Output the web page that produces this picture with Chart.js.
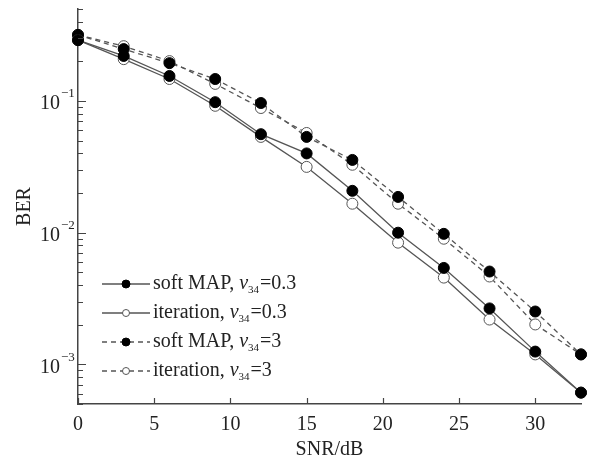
<!DOCTYPE html>
<html>
<head>
<meta charset="utf-8">
<script src="https://cdn.jsdelivr.net/npm/chart.js@4"></script>
<style>
  html, body { margin: 0; padding: 0; background: #fff; }
  #wrap { width: 596px; height: 462px; }
</style>
</head>
<body>
<div id="wrap"><canvas id="ber"></canvas></div>
<script>
// SNR (dB) sample points
const snr = [0, 3, 6, 9, 12, 15, 18, 21, 24, 27, 30, 33];
// BER values
const softMap03 = [0.29, 0.22, 0.155, 0.098, 0.056, 0.040, 0.0208, 0.0100, 0.0054, 0.00266, 0.00125, 0.00061];
const iter03    = [0.29, 0.208, 0.147, 0.092, 0.0534, 0.0316, 0.0166, 0.0084, 0.00456, 0.00219, 0.00119, 0.00061];
const softMap3  = [0.318, 0.248, 0.194, 0.147, 0.0966, 0.0534, 0.0357, 0.0187, 0.0098, 0.00507, 0.00252, 0.00119];
const iter3     = [0.318, 0.261, 0.201, 0.135, 0.0885, 0.0572, 0.0328, 0.0166, 0.0090, 0.00465, 0.00201, 0.00119];

const legendNames = ['soft MAP, ', 'iteration, ', 'soft MAP, ', 'iteration, '];
const legendV = ['0.3', '0.3', '3', '3'];

const xTicks = [0, 5, 10, 15, 20, 25, 30];
const yDecades = [1e-3, 1e-2, 1e-1];
const yExp = ['-3', '-2', '-1'];

const FONT = '"Liberation Serif", "Times New Roman", serif';
const LINE = '#555';

function pts(arr) { return arr.map((v, i) => ({x: snr[i], y: v})); }

function series(label, data, filled, dashed) {
  return {
    label: label,
    data: pts(data),
    borderColor: LINE,
    borderWidth: 1.3,
    borderDash: dashed ? [5, 4] : [],
    pointRadius: 5.5,
    pointBorderWidth: 1,
    pointBorderColor: filled ? '#000' : '#555',
    pointBackgroundColor: filled ? '#000' : '#fff',
    tension: 0,
    fill: false,
    clip: false
  };
}

// minor + major y ticks between 5e-4 and 0.5
function logTicks() {
  const out = [];
  for (let e = -4; e <= -1; e++) {
    for (let m = 1; m <= 9; m++) {
      const v = m * Math.pow(10, e);
      if (v >= 5e-4 * 0.999 && v <= 0.5 * 1.001) out.push(v);
    }
  }
  return out;
}

const decorPlugin = {
  id: 'decor',
  afterDraw(chart) {
    const ctx = chart.ctx;
    const xs = chart.scales.x, ys = chart.scales.y;
    const area = chart.chartArea;
    ctx.save();
    ctx.strokeStyle = '#444';
    ctx.lineWidth = 1.2;
    // inward tick marks
    ctx.beginPath();
    xTicks.forEach(v => {
      const px = Math.round(xs.getPixelForValue(v)) + 0.5;
      ctx.moveTo(px, area.bottom);
      ctx.lineTo(px, area.bottom - 6);
    });
    logTicks().forEach(v => {
      const py = Math.round(ys.getPixelForValue(v)) + 0.5;
      const major = yDecades.some(d => Math.abs(d - v) / d < 1e-6);
      ctx.moveTo(area.left, py);
      ctx.lineTo(area.left + (major ? 8 : 5), py);
    });
    ctx.stroke();

    // y tick labels with superscript exponents
    ctx.fillStyle = '#222';
    yDecades.forEach((v, i) => {
      const py = ys.getPixelForValue(v);
      ctx.font = '20px ' + FONT;
      ctx.textAlign = 'right';
      ctx.textBaseline = 'middle';
      ctx.fillText('10', 60, py + 3);
      ctx.font = '13px ' + FONT;
      ctx.textAlign = 'left';
      ctx.fillText(yExp[i].replace('-', '\u2212'), 61, py - 7);
    });

    // legend
    const rows = [284, 313, 342, 371];
    chart.data.datasets.forEach((ds, i) => {
      const y = rows[i];
      ctx.strokeStyle = ds.borderColor;
      ctx.lineWidth = 1.3;
      ctx.setLineDash(ds.borderDash);
      ctx.beginPath();
      ctx.moveTo(102, y);
      ctx.lineTo(150, y);
      ctx.stroke();
      ctx.setLineDash([]);
      ctx.beginPath();
      ctx.arc(126, y, ds.pointBackgroundColor === '#000' ? 4 : 3.5, 0, Math.PI * 2);
      ctx.fillStyle = ds.pointBackgroundColor;
      ctx.fill();
      ctx.strokeStyle = ds.pointBorderColor;
      ctx.lineWidth = 1;
      ctx.stroke();

      ctx.fillStyle = '#222';
      ctx.textAlign = 'left';
      ctx.textBaseline = 'middle';
      let x = 153;
      ctx.font = '20px ' + FONT;
      ctx.fillText(legendNames[i], x, y);
      x += ctx.measureText(legendNames[i]).width;
      ctx.font = 'italic 20px ' + FONT;
      ctx.fillText('v', x, y);
      x += ctx.measureText('v').width;
      ctx.font = '11px ' + FONT;
      ctx.fillText('34', x, y + 6);
      x += ctx.measureText('34').width + 1;
      ctx.font = '20px ' + FONT;
      ctx.fillText('=' + legendV[i], x, y);
    });
    ctx.restore();
  }
};

new Chart(document.getElementById('ber'), {
  type: 'line',
  data: {
    datasets: [
      series('soft MAP, v34=0.3', softMap03, true, false),
      series('iteration, v34=0.3', iter03, false, false),
      series('soft MAP, v34=3', softMap3, true, true),
      series('iteration, v34=3', iter3, false, true)
    ]
  },
  options: {
    responsive: true,
    maintainAspectRatio: false,
    animation: false,
    layout: { padding: { top: 9, right: 15, left: 0, bottom: 0 } },
    plugins: {
      legend: { display: false },
      tooltip: { enabled: false }
    },
    scales: {
      x: {
        type: 'linear',
        min: 0,
        max: 33,
        afterBuildTicks: s => { s.ticks = xTicks.map(v => ({value: v})); },
        afterFit: s => { s.height = 58; },
        grid: { display: true, drawOnChartArea: false, drawTicks: false },
        border: { display: true, color: '#444', width: 1.5 },
        ticks: {
          padding: 9,
          color: '#222',
          font: { family: FONT, size: 20 }
        },
        title: {
          display: true,
          text: 'SNR/dB',
          color: '#222',
          padding: { top: 0, bottom: 0 },
          font: { family: FONT, size: 20 }
        }
      },
      y: {
        type: 'logarithmic',
        min: 5e-4,
        max: 0.5,
        afterBuildTicks: s => { s.ticks = logTicks().map(v => ({value: v})); },
        afterFit: s => { s.width = 78; },
        grid: { display: true, drawOnChartArea: false, drawTicks: false },
        border: { display: true, color: '#444', width: 1.5 },
        ticks: { display: false },
        title: {
          display: true,
          text: 'BER',
          color: '#222',
          padding: { top: 13, bottom: 0 },
          font: { family: FONT, size: 20 }
        }
      }
    }
  },
  plugins: [decorPlugin]
});
</script>
</body>
</html>
